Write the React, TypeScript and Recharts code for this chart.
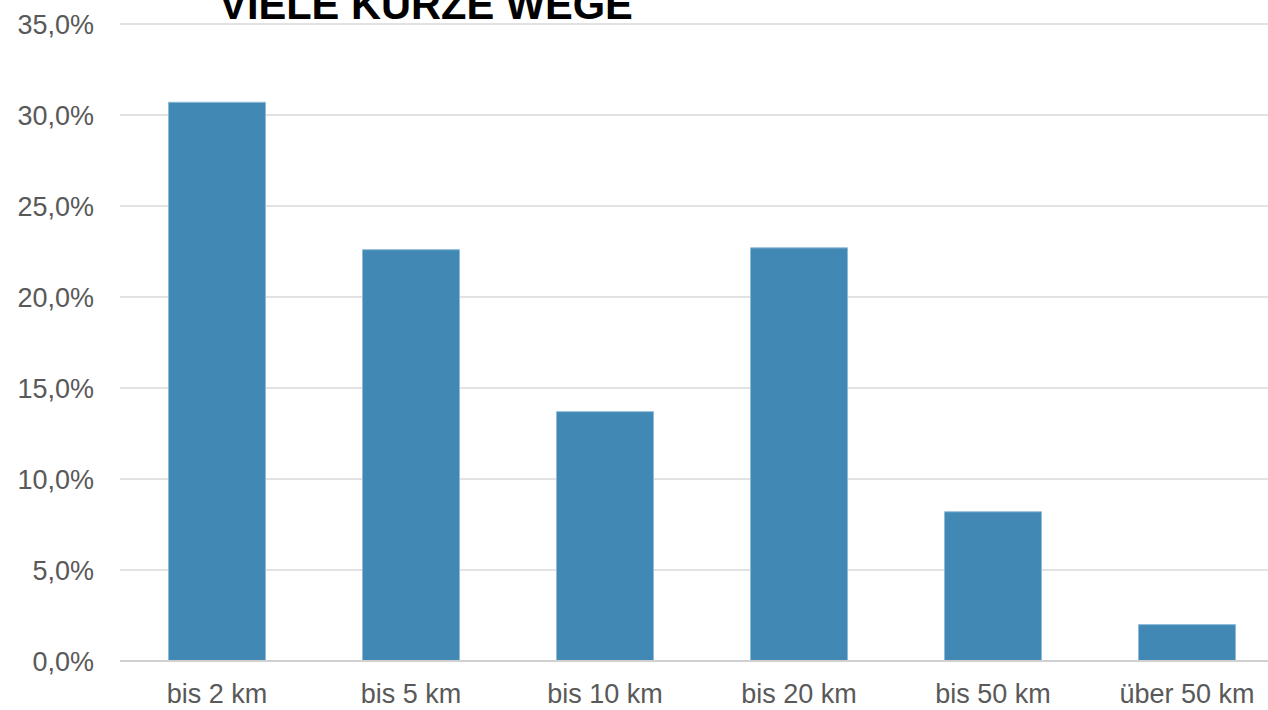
import React from "react";
import { BarChart, Bar, XAxis, YAxis, CartesianGrid } from "recharts";

const categories = ["bis 2 km", "bis 5 km", "bis 10 km", "bis 20 km", "bis 50 km", "über 50 km"];
const shares = [30.7, 22.6, 13.7, 22.7, 8.2, 2.0];
const yTicks = [0, 5, 10, 15, 20, 25, 30, 35];
const title = "VIELE KURZE WEGE";

const data = categories.map((c, i) => ({ name: c, value: shares[i] }));

const FONT = '"Liberation Sans", Arial, sans-serif';

const fmt = (v: number) => v.toFixed(1).replace(".", ",") + "%";

export default function App() {
  return (
    <div
      style={{
        position: "absolute",
        left: 0,
        top: 0,
        width: 1268,
        height: 710,
        overflow: "hidden",
        background: "#ffffff",
        fontFamily: FONT,
      }}
    >
      <BarChart
        width={1290}
        height={710}
        data={data}
        margin={{ top: 24, right: 6, bottom: 0, left: 0 }}
        barCategoryGap="25%"
      >
        <CartesianGrid vertical={false} stroke="#d9d9d9" strokeWidth={1.5} />
        <XAxis
          dataKey="name"
          height={49}
          tickLine={false}
          tickSize={0}
          tickMargin={23}
          axisLine={{ stroke: "#d0d0d0", strokeWidth: 2 }}
          tick={{ fill: "#595959", fontSize: 27, fontFamily: FONT }}
          interval={0}
        />
        <YAxis
          width={120}
          domain={[0, 35]}
          ticks={yTicks}
          tickFormatter={fmt}
          tickLine={false}
          axisLine={false}
          tickSize={0}
          tickMargin={26}
          tick={{ fill: "#595959", fontSize: 27, fontFamily: FONT }}
        />
        <Bar
          dataKey="value"
          fill="#4189b4"
          stroke="#8ebbd8"
          strokeWidth={1}
          isAnimationActive={false}
        />
      </BarChart>
      <svg
        width={1268}
        height={710}
        style={{ position: "absolute", left: 0, top: 0, pointerEvents: "none" }}
      >
        <text
          x={426}
          y={19}
          textAnchor="middle"
          fontFamily={FONT}
          fontWeight="bold"
          fontSize={41.6}
          fill="#000000"
        >
          {title}
        </text>
      </svg>
    </div>
  );
}
